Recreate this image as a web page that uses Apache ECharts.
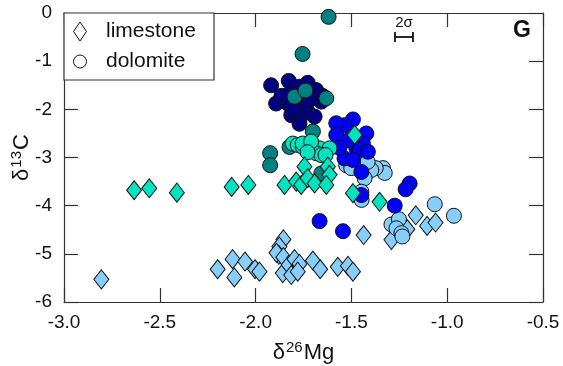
<!DOCTYPE html>
<html>
<head>
<meta charset="utf-8">
<script src="https://cdn.jsdelivr.net/npm/echarts@6/dist/echarts.min.js"></script>
<style>
  html, body { margin: 0; padding: 0; background: #fff; }
  #chart { width: 563px; height: 366px; }
</style>
</head>
<body>
<div id="chart"></div>
<script>
// δ26Mg (x) vs δ13C (y) pairs, grouped by sample set and lithology
const lightBlueLimestone = [
  [-2.805, -5.53], [-2.198, -5.32], [-2.120, -5.11], [-2.111, -5.49], [-2.055, -5.16],
  [-2.003, -5.32], [-1.980, -5.37], [-1.855, -4.70], [-1.876, -4.85], [-1.879, -5.02],
  [-1.891, -4.98], [-1.855, -5.07], [-1.858, -5.40], [-1.827, -5.23], [-1.797, -5.11],
  [-1.771, -5.21], [-1.814, -5.44], [-1.780, -5.37], [-1.701, -5.14], [-1.663, -5.32],
  [-1.571, -5.27], [-1.518, -5.25], [-1.492, -5.37], [-1.436, -4.61], [-1.291, -4.71],
  [-1.208, -4.49], [-1.164, -4.20], [-1.105, -4.42], [-1.061, -4.35]
];
const lightBlueDolomite = [
  [-1.065, -3.97], [-0.965, -4.21], [-1.291, -4.39], [-1.252, -4.28], [-1.265, -4.47],
  [-1.239, -4.57], [-1.234, -4.64], [-1.335, -3.22], [-1.326, -3.32], [-1.373, -3.22],
  [-1.396, -3.26], [-1.431, -3.43], [-1.527, -3.16], [-1.501, -3.22], [-1.448, -3.71],
  [-1.467, -3.05], [-1.415, -3.09], [-1.447, -3.88]
];
const navyDolomite = [
  [-1.919, -1.50], [-1.827, -1.41], [-1.728, -1.45], [-1.684, -1.60], [-1.771, -1.53],
  [-1.823, -1.67], [-1.893, -1.88], [-1.832, -1.88], [-1.771, -1.88], [-1.657, -1.84],
  [-1.814, -2.12], [-1.771, -2.22], [-1.728, -2.05], [-1.692, -2.15], [-1.754, -2.01],
  [-1.719, -1.81], [-1.792, -1.74], [-1.865, -1.72], [-1.651, -1.72], [-1.802, -1.97],
  [-1.771, -2.30]
];
const blueDolomite = [
  [-1.492, -2.21], [-1.536, -2.33], [-1.579, -2.29], [-1.579, -2.53], [-1.422, -2.50],
  [-1.440, -2.71], [-1.474, -2.81], [-1.457, -2.84], [-1.414, -2.88], [-1.536, -3.02],
  [-1.492, -3.05], [-1.448, -3.30], [-1.448, -3.78], [-1.196, -3.54], [-1.217, -3.66],
  [-1.274, -4.00], [-1.544, -4.53], [-1.666, -4.32], [-1.515, -2.64], [-1.562, -2.80]
];
const tealDolomite = [
  [-1.619, -0.08], [-1.755, -0.85], [-1.797, -1.74], [-1.740, -1.61], [-1.631, -1.77],
  [-1.701, -2.46], [-1.924, -2.91], [-1.924, -3.16], [-1.823, -2.78], [-1.657, -3.33]
];
const turquoiseDolomite = [
  [-1.806, -2.71], [-1.780, -2.74], [-1.754, -2.78], [-1.710, -2.84], [-1.666, -2.81],
  [-1.684, -2.91], [-1.614, -2.81], [-1.657, -2.95], [-1.754, -2.71], [-1.710, -2.67],
  [-1.729, -2.89], [-1.635, -2.95]
];
const turquoiseLimestone = [
  [-2.634, -3.68], [-2.555, -3.64], [-2.411, -3.73], [-2.125, -3.61], [-2.038, -3.57],
  [-1.849, -3.57], [-1.788, -3.50], [-1.762, -3.57], [-1.745, -3.19], [-1.728, -3.43],
  [-1.692, -3.54], [-1.623, -3.19], [-1.614, -3.36], [-1.631, -3.57], [-1.483, -2.53],
  [-1.492, -3.74], [-1.353, -3.92]
];

// axis ranges and tick labels
const xTicks = ['-3.0', '-2.5', '-2.0', '-1.5', '-1.0', '-0.5'];
const yTicks = ['-6', '-5', '-4', '-3', '-2', '-1', '0'];
const xRange = [-3, -0.5];
const yRange = [-6, 0];

const FONT = '"Liberation Sans", Arial, Helvetica, sans-serif';
const AXIS_COLOR = '#333';
const TEXT_COLOR = '#111';
const DIAMOND = [15, 19];
const CIRCLE = 15;

function scatter(name, data, symbol, color) {
  return {
    name: name,
    type: 'scatter',
    data: data,
    symbol: symbol,
    symbolSize: symbol === 'diamond' ? DIAMOND : CIRCLE,
    itemStyle: { color: color, borderColor: '#111', borderWidth: 1, opacity: 1 },
    emphasis: { disabled: true },
    silent: true
  };
}

function baseX(position, showLabels) {
  return {
    type: 'value', position: position,
    min: xRange[0], max: xRange[1], interval: 0.5,
    axisLine: { show: true, onZero: false, lineStyle: { color: AXIS_COLOR, width: 1.2 } },
    axisTick: { show: true, inside: true, length: 14, lineStyle: { color: AXIS_COLOR, width: 1.2 } },
    axisLabel: {
      show: showLabels, margin: 11, color: TEXT_COLOR, fontSize: 19, fontFamily: FONT,
      formatter: v => xTicks[Math.round((v - xRange[0]) / 0.5)]
    },
    splitLine: { show: false }
  };
}

function baseY(position, showLabels) {
  return {
    type: 'value', position: position,
    min: yRange[0], max: yRange[1], interval: 1,
    axisLine: { show: true, onZero: false, lineStyle: { color: AXIS_COLOR, width: 1.2 } },
    axisTick: { show: true, inside: true, length: 14, lineStyle: { color: AXIS_COLOR, width: 1.2 } },
    axisLabel: {
      show: showLabels, margin: 12, color: TEXT_COLOR, fontSize: 19, fontFamily: FONT,
      formatter: v => yTicks[Math.round(v - yRange[0])]
    },
    splitLine: { show: false }
  };
}

const titleRich = {
  d: { fontSize: 22, fontFamily: FONT, color: TEXT_COLOR },
  s: { fontSize: 15, fontFamily: FONT, color: TEXT_COLOR, verticalAlign: 'top', padding: [0, 1, 10, 1] }
};

const xMain = baseX('bottom', true);
xMain.name = '{d|δ}{s|26}{d|Mg}';
xMain.nameLocation = 'middle';
xMain.nameGap = 38;
xMain.nameMoveOverlap = false;
xMain.nameTextStyle = { rich: titleRich };

const yMain = baseY('left', true);
yMain.name = '{d|δ}{s|13}{d|C}';
yMain.nameLocation = 'middle';
yMain.nameGap = 30;
yMain.nameMoveOverlap = false;
yMain.nameTextStyle = { rich: titleRich };

const chart = echarts.init(document.getElementById('chart'), null, { renderer: 'canvas' });

const Z = 100;
chart.setOption({
  animation: false,
  backgroundColor: '#fff',
  grid: { left: 64, right: 20, top: 13, bottom: 64, containLabel: false, outerBoundsMode: 'none' },
  xAxis: [xMain, baseX('top', false)],
  yAxis: [yMain, baseY('right', false)],
  series: [
    scatter('limestone', lightBlueLimestone, 'diamond', '#87cefa'),
    scatter('dolomite', lightBlueDolomite, 'circle', '#87cefa'),
    scatter('dolomite', navyDolomite, 'circle', '#000080'),
    scatter('dolomite', blueDolomite, 'circle', '#0000ff'),
    scatter('dolomite', tealDolomite, 'circle', '#008080'),
    scatter('dolomite', turquoiseDolomite, 'circle', '#00e3c0'),
    scatter('limestone', turquoiseLimestone, 'diamond', '#00e3c0')
  ],
  graphic: [
    // legend box
    { type: 'rect', z: Z, shape: { x: 64, y: 13, width: 150, height: 67 },
      style: { fill: '#fff', stroke: AXIS_COLOR, lineWidth: 1.2 } },
    { type: 'polygon', z: Z + 1, shape: { points: [[80, 22], [86.5, 31.5], [80, 41], [73.5, 31.5]] },
      style: { fill: '#fff', stroke: '#111', lineWidth: 1 } },
    { type: 'circle', z: Z + 1, shape: { cx: 80, cy: 61.5, r: 6.5 },
      style: { fill: '#fff', stroke: '#111', lineWidth: 1 } },
    { type: 'text', z: Z + 1, x: 106, y: 31.5,
      style: { text: 'limestone', font: '21px ' + FONT, fill: TEXT_COLOR, verticalAlign: 'middle' } },
    { type: 'text', z: Z + 1, x: 106, y: 61.5,
      style: { text: 'dolomite', font: '21px ' + FONT, fill: TEXT_COLOR, verticalAlign: 'middle' } },
    // 2σ error bar
    { type: 'text', z: Z, x: 404, y: 15,
      style: { text: '2σ', font: '15px ' + FONT, fill: TEXT_COLOR, align: 'center' } },
    { type: 'line', z: Z, shape: { x1: 395, y1: 37, x2: 413, y2: 37 }, style: { stroke: '#111', lineWidth: 1.8 } },
    { type: 'line', z: Z, shape: { x1: 395, y1: 32, x2: 395, y2: 42 }, style: { stroke: '#111', lineWidth: 1.8 } },
    { type: 'line', z: Z, shape: { x1: 413, y1: 32, x2: 413, y2: 42 }, style: { stroke: '#111', lineWidth: 1.8 } },
    // panel label
    { type: 'text', z: Z, x: 522, y: 31,
      style: { text: 'G', font: 'bold 23px ' + FONT, fill: TEXT_COLOR, align: 'center', verticalAlign: 'middle' } }
  ]
});
</script>
</body>
</html>
